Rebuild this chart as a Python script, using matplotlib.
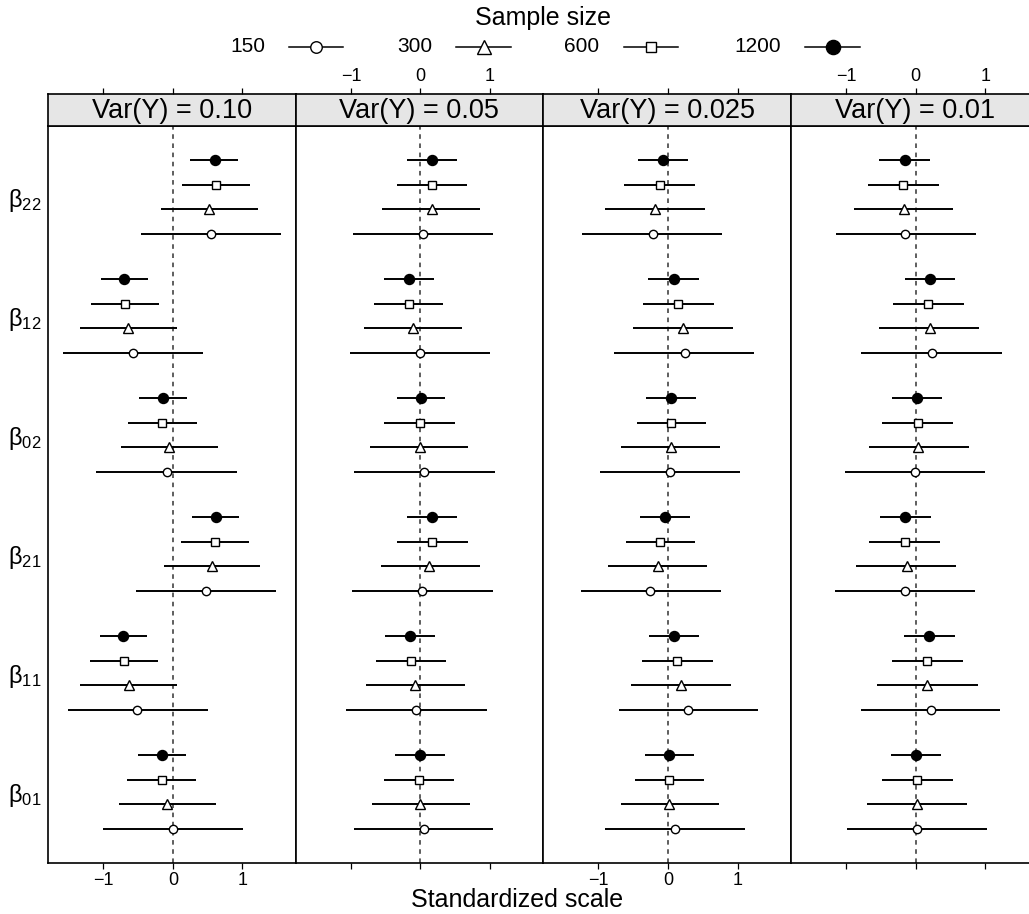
import matplotlib
matplotlib.use("Agg")
import matplotlib.pyplot as plt
from matplotlib.lines import Line2D
from matplotlib.patches import Rectangle

plt.rcParams['font.family'] = ['Liberation Sans', 'DejaVu Sans']
plt.rcParams['axes.unicode_minus'] = True

# data
panels = ["Var(Y) = 0.10", "Var(Y) = 0.05", "Var(Y) = 0.025", "Var(Y) = 0.01"]
params = ["22", "12", "02", "21", "11", "01"]          # top to bottom
sizes = ["150", "300", "600", "1200"]

# est[panel][param][size], sizes in order 150, 300, 600, 1200
est = [
    [[0.55, 0.52, 0.62, 0.60], [-0.57, -0.64, -0.69, -0.70], [-0.09, -0.05, -0.15, -0.14],
     [0.48, 0.56, 0.61, 0.62], [-0.51, -0.63, -0.70, -0.71], [0.00, -0.09, -0.16, -0.16]],
    [[0.03, 0.16, 0.16, 0.16], [-0.01, -0.11, -0.17, -0.16], [0.05, -0.01, -0.01, 0.01],
     [0.02, 0.13, 0.17, 0.16], [-0.06, -0.08, -0.14, -0.15], [0.05, 0.00, -0.02, 0.00]],
    [[-0.22, -0.19, -0.12, -0.07], [0.24, 0.21, 0.15, 0.08], [0.03, 0.04, 0.04, 0.04],
     [-0.26, -0.15, -0.11, -0.05], [0.29, 0.18, 0.13, 0.09], [0.10, 0.02, 0.02, 0.02]],
    [[-0.15, -0.17, -0.18, -0.16], [0.23, 0.20, 0.18, 0.21], [-0.01, 0.04, 0.03, 0.02],
     [-0.16, -0.13, -0.16, -0.15], [0.22, 0.17, 0.17, 0.19], [0.02, 0.02, 0.02, 0.01]],
]
lo = [
    [[-0.46, -0.17, 0.13, 0.25], [-1.58, -1.33, -1.18, -1.04], [-1.10, -0.75, -0.65, -0.48],
     [-0.53, -0.13, 0.12, 0.28], [-1.51, -1.33, -1.19, -1.05], [-1.01, -0.78, -0.66, -0.50]],
    [[-0.97, -0.55, -0.34, -0.19], [-1.02, -0.81, -0.67, -0.52], [-0.95, -0.72, -0.52, -0.34],
     [-0.98, -0.57, -0.33, -0.19], [-1.07, -0.78, -0.64, -0.51], [-0.96, -0.70, -0.52, -0.36]],
    [[-1.23, -0.90, -0.63, -0.43], [-0.77, -0.51, -0.36, -0.29], [-0.98, -0.67, -0.45, -0.31],
     [-1.25, -0.87, -0.61, -0.41], [-0.71, -0.53, -0.38, -0.27], [-0.91, -0.68, -0.47, -0.33]],
    [[-1.15, -0.89, -0.69, -0.52], [-0.78, -0.52, -0.33, -0.16], [-1.01, -0.67, -0.48, -0.34],
     [-1.16, -0.86, -0.67, -0.51], [-0.79, -0.55, -0.34, -0.17], [-0.99, -0.70, -0.49, -0.35]],
]
hi = [
    [[1.55, 1.22, 1.11, 0.94], [0.44, 0.06, -0.20, -0.36], [0.92, 0.65, 0.35, 0.21],
     [1.49, 1.26, 1.10, 0.95], [0.50, 0.06, -0.21, -0.37], [1.01, 0.62, 0.34, 0.19]],
    [[1.04, 0.86, 0.67, 0.52], [1.00, 0.60, 0.33, 0.20], [1.07, 0.69, 0.49, 0.36],
     [1.04, 0.85, 0.68, 0.52], [0.95, 0.64, 0.37, 0.21], [1.05, 0.71, 0.48, 0.35]],
    [[0.78, 0.53, 0.39, 0.29], [1.24, 0.93, 0.66, 0.44], [1.04, 0.75, 0.54, 0.40],
     [0.76, 0.56, 0.39, 0.31], [1.29, 0.90, 0.64, 0.45], [1.10, 0.73, 0.52, 0.38]],
    [[0.87, 0.54, 0.33, 0.20], [1.24, 0.91, 0.69, 0.56], [1.00, 0.76, 0.54, 0.38],
     [0.85, 0.58, 0.35, 0.22], [1.22, 0.89, 0.68, 0.56], [1.03, 0.74, 0.54, 0.37]],
]

# marker style per sample size
markers = ['o', '^', 's', 'o']
mfaces = ['white', 'white', 'white', 'black']
msizes = [6, 7.5, 5.2, 7.2]

W, H = 1029, 914
fig = plt.figure(figsize=(W / 100, H / 100), dpi=100)

left_px, pw = 48, 247.6
top_px, bot_px, strip_px = 126, 863, 32
group_step = 4.84
xlim = (-1.795, 1.765)
ylim = (28.58, -1.38)

for p in range(4):
    x0 = (left_px + p * pw) / W
    ax = fig.add_axes([x0, (H - bot_px) / H, pw / W, (bot_px - top_px) / H])
    st = fig.add_axes([x0, (H - top_px) / H, pw / W, strip_px / H], sharex=ax)

    for g in range(len(params)):
        for i in range(len(sizes)):
            y = g * group_step + (3 - i)
            ax.plot([lo[p][g][i], hi[p][g][i]], [y, y], color='black', lw=1.4,
                    solid_capstyle='butt', zorder=2)
            ax.plot(est[p][g][i], y, marker=markers[i], ms=msizes[i],
                    mfc=mfaces[i], mec='black', mew=1.0, zorder=3)
    ax.axvline(0, color='#333333', lw=1.1, ls=(0, (3, 3)), zorder=1)

    ax.set_xlim(xlim)
    ax.set_ylim(ylim)
    ax.set_xticks([-1, 0, 1])
    ax.tick_params(axis='x', direction='out', length=4.5, width=0.9,
                   labelsize=13, pad=2, labelbottom=(p % 2 == 0))
    if p == 0:
        ax.set_yticks([g * group_step + 1.5 for g in range(len(params))])
        ax.set_yticklabels([r'$\mathregular{\beta_{%s}}$' % s for s in params],
                           fontsize=17)
        ax.tick_params(axis='y', length=0, pad=5)
    else:
        ax.set_yticks([])
    for sp in ax.spines.values():
        sp.set_linewidth(1.2)

    st.set_facecolor('#e6e6e6')
    st.set_ylim(0, 1)
    st.set_yticks([])
    st.xaxis.set_ticks_position('top')
    st.tick_params(axis='x', direction='out', length=4.5, width=0.9,
                   labelsize=13, pad=2, labeltop=(p % 2 == 1), labelbottom=False)
    for sp in st.spines.values():
        sp.set_linewidth(1.2)
    st.text(0.5, 0.47, panels[p], transform=st.transAxes, ha='center',
            va='center', fontsize=19.5)

# legend on top
fig.text(543 / W, 1 - 18 / H, "Sample size", ha='center', va='center', fontsize=18)
leg_text_right = [265, 432, 599, 781]
leg_line = [(289, 343), (456, 511), (624, 678), (805, 860)]
leg_ms = [8.3, 10.5, 7.3, 10.2]
ly = 1 - 47 / H
for i in range(len(sizes)):
    fig.text(leg_text_right[i] / W, ly, sizes[i], ha='right', va='center', fontsize=15)
    a, b = leg_line[i]
    fig.add_artist(Line2D([a / W, b / W], [ly, ly], color='black', lw=1.1,
                          transform=fig.transFigure))
    fig.add_artist(Line2D([(a + b) / 2 / W], [ly], marker=markers[i], ms=leg_ms[i],
                          mfc=mfaces[i], mec='black', mew=1.0, ls='none',
                          transform=fig.transFigure))

fig.text(517 / W, 1 - 900 / H, "Standardized scale", ha='center', va='center', fontsize=18)

fig.savefig("out.png", dpi=100)
